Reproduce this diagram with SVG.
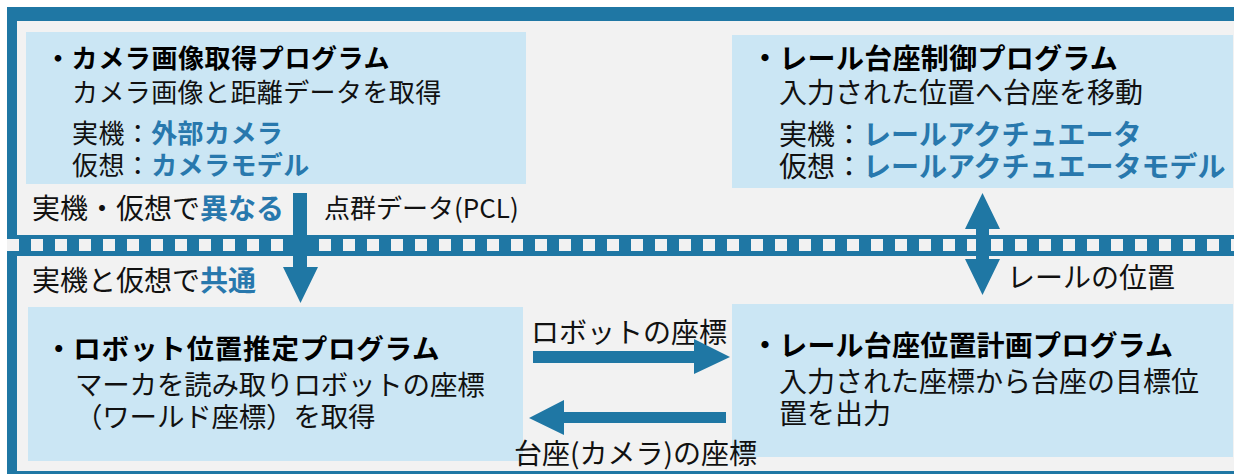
<svg xmlns="http://www.w3.org/2000/svg" width="1234" height="474" viewBox="0 0 1234 474">
<style>
text{font-family:"Noto Sans CJK JP","Noto Sans",sans-serif;fill:#111}
.t{font-weight:bold;fill:#000}
.em{font-weight:bold;fill:#2878AD}
.box{fill:#CBE6F4}
.arw{fill:#1F77A4}
</style>
<rect x="7" y="7" width="1240" height="480" fill="#1F77A4"/>
<rect x="17" y="21" width="1230" height="450" fill="#F2F2F2"/>
<g id="separator">
<rect x="7" y="235" width="1240" height="21" fill="#1F77A4"/>
<line x1="7" y1="245" x2="1240" y2="245" stroke="#F2F2F2" stroke-width="12" stroke-dasharray="12 12"/>
</g>
<g id="camera" font-size="26" letter-spacing="0.4">
<rect class="box" x="26" y="32" width="500" height="152"/>
<text class="t" x="45" y="68" letter-spacing="0.6">・カメラ画像取得プログラム</text>
<text x="72" y="102">カメラ画像と距離データを取得</text>
<text x="72" y="143">実機：<tspan class="em">外部カメラ</tspan></text>
<text x="72" y="175">仮想：<tspan class="em">カメラモデル</tspan></text>
</g>
<g id="railctrl" font-size="28">
<rect class="box" x="732" y="35" width="501" height="153"/>
<text class="t" x="751" y="69" letter-spacing="0.3">・レール台座制御プログラム</text>
<text x="779" y="103">入力された位置へ台座を移動</text>
<text x="779" y="145">実機：<tspan class="em">レールアクチュエータ</tspan></text>
<text x="779" y="177">仮想：<tspan class="em">レールアクチュエータモデル</tspan></text>
</g>
<g id="robotpos" font-size="27.5">
<rect class="box" x="28" y="307" width="495" height="154"/>
<text class="t" x="45" y="359" letter-spacing="0.8">・ロボット位置推定プログラム</text>
<text x="75" y="395" letter-spacing="-0.2">マーカを読み取りロボットの座標</text>
<text x="75" y="427" letter-spacing="-0.2">（ワールド座標）を取得</text>
</g>
<g id="railplan" font-size="28">
<rect class="box" x="732" y="304" width="501" height="153"/>
<text class="t" x="751" y="356" letter-spacing="0.2">・レール台座位置計画プログラム</text>
<text x="779" y="392">入力された座標から台座の目標位</text>
<text x="779" y="424">置を出力</text>
</g>
<g id="labels" font-size="28">
<text x="32" y="219">実機・仮想で<tspan class="em">異なる</tspan></text>
<text x="32" y="291">実機と仮想で<tspan class="em">共通</tspan></text>
<text x="324" y="218" font-size="26">点群データ(PCL)</text>
<text x="1007" y="288">レールの位置</text>
<text x="531" y="343">ロボットの座標</text>
<text x="514" y="464">台座(カメラ)の座標</text>
</g>
<g id="connectors">
<path class="arw" d="M293 193H307V267H318L300.5 303L283 267H293Z"/>
<path class="arw" d="M982.5 193L1000 229H989V259H1000L982.5 295L965 259H976V229H965Z"/>
<path class="arw" d="M533 351H694V339L730 357L694 374V363H533Z"/>
<path class="arw" d="M726 412H564V400L529 418L564 435V423H726Z"/>
</g>
</svg>
